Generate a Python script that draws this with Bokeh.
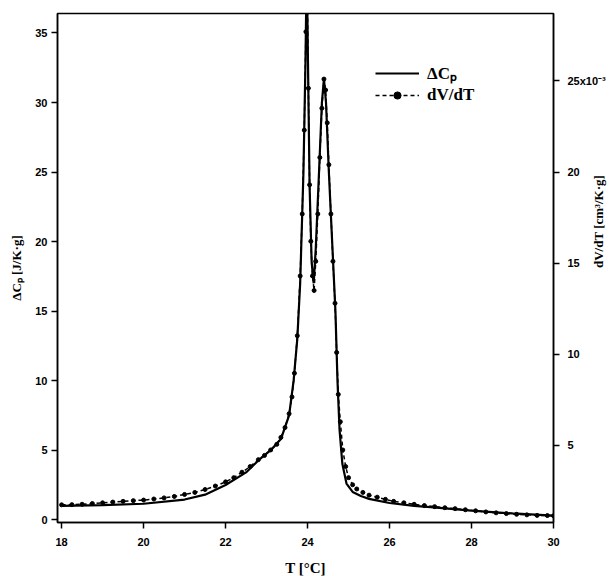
import math
from bokeh.plotting import figure
from bokeh.models import (Range1d, LinearAxis, FixedTicker, Legend, LegendItem)
from bokeh.embed import file_html
from bokeh.resources import INLINE

# ---- data ----
temp_cp = [18.0, 19.0, 20.0, 21.0, 21.5, 22.0, 22.5, 22.85, 23.1, 23.35, 23.55, 23.66,
           23.75, 23.82, 23.9, 23.95, 23.98, 24.01, 24.05, 24.1, 24.15, 24.2, 24.28,
           24.35, 24.4, 24.45, 24.52, 24.6, 24.68, 24.73, 24.78, 24.85, 24.95, 25.1,
           25.3, 25.5, 26.0, 26.6, 27.0, 28.0, 29.0, 30.0]
delta_cp = [1.0, 1.05, 1.15, 1.45, 1.8, 2.5, 3.4, 4.4, 5.0, 5.8, 7.5, 10.0,
            13.0, 17.0, 25.0, 33.0, 40.0, 33.0, 24.0, 18.5, 17.0, 19.5, 25.0,
            30.0, 31.7, 30.0, 25.0, 20.0, 15.0, 10.0, 6.5, 4.0, 2.6, 2.0,
            1.7, 1.5, 1.2, 1.0, 0.9, 0.65, 0.45, 0.3]

temp_dv = [18.0, 18.25, 18.5, 18.75, 19.0, 19.25, 19.5, 19.75, 20.0, 20.25, 20.5, 20.75,
           21.0, 21.25, 21.5, 21.75, 22.0, 22.2, 22.4, 22.6, 22.8, 22.95, 23.1, 23.25,
           23.35, 23.45, 23.55, 23.62, 23.68, 23.75, 23.82, 23.87, 23.92, 23.96, 23.99,
           24.02, 24.05, 24.08, 24.12, 24.16, 24.2, 24.25, 24.3, 24.35, 24.4, 24.44,
           24.48, 24.52, 24.57, 24.62, 24.67, 24.71, 24.75, 24.8, 24.86, 24.93, 25.0,
           25.1, 25.2, 25.35, 25.5, 25.7, 25.9, 26.1, 26.35, 26.6, 26.85, 27.1, 27.35,
           27.6, 27.85, 28.1, 28.35, 28.6, 28.85, 29.1, 29.35, 29.6, 29.85, 30.0]
dv_dt = [1.74, 1.75, 1.77, 1.81, 1.85, 1.89, 1.93, 1.97, 2.00, 2.06, 2.12, 2.20,
         2.31, 2.42, 2.58, 2.77, 3.00, 3.23, 3.53, 3.84, 4.22, 4.45, 4.75, 5.06,
         5.44, 5.98, 6.74, 7.66, 8.96, 11.02, 14.3, 17.7, 22.3, 27.7, 30.7,
         24.6, 19.3, 16.2, 14.3, 13.5, 15.1, 17.7, 20.8, 23.5, 25.1, 24.5,
         22.7, 20.4, 17.7, 15.1, 12.8, 10.1, 7.8, 6.3, 4.75, 3.84, 3.23,
         2.84, 2.61, 2.42, 2.27, 2.16, 2.04, 1.93, 1.85, 1.77, 1.70, 1.64, 1.58,
         1.53, 1.47, 1.41, 1.35, 1.30, 1.26, 1.22, 1.19, 1.16, 1.15, 1.14]

x_ticks = [18, 20, 22, 24, 26, 28, 30]
left_ticks = [0, 5, 10, 15, 20, 25, 30, 35]
right_ticks = [5, 10, 15, 20, 25]
right_tick_labels = {25: "25x10⁻³"}

TICK_FONT = "Liberation Sans"
LABEL_FONT = "Liberation Serif"

p = figure(frame_width=496, frame_height=509,
           x_range=Range1d(17.9, 30.0), y_range=Range1d(-0.2, 36.4),
           output_backend="svg", toolbar_location=None,
           min_border_left=57, min_border_right=50, min_border_top=13, min_border_bottom=48,
           background_fill_color="white", border_fill_color="white")
p.extra_y_ranges = {"dv": Range1d(0.77, 28.7)}
p.grid.visible = False
p.outline_line_color = "black"
p.outline_line_width = 1.5
p.outline_line_alpha = 1.0


def style_axis(ax):
    ax.axis_line_color = "black"
    ax.axis_line_width = 1.5
    ax.major_tick_line_color = "black"
    ax.major_tick_line_width = 1.5
    ax.major_tick_out = 6
    ax.major_tick_in = 0
    ax.minor_tick_line_color = None
    ax.major_label_text_font = TICK_FONT
    ax.major_label_text_font_style = "bold"
    ax.major_label_text_font_size = "11px"
    ax.major_label_text_color = "black"
    ax.axis_label_text_font = LABEL_FONT
    ax.axis_label_text_font_style = "bold"
    ax.axis_label_text_color = "black"


xa = p.xaxis[0]
style_axis(xa)
xa.ticker = FixedTicker(ticks=x_ticks)
xa.axis_label = "T [°C]"
xa.axis_label_text_font_size = "15px"
xa.major_label_standoff = 9
xa.axis_label_standoff = 11

ya = p.yaxis[0]
style_axis(ya)
ya.ticker = FixedTicker(ticks=left_ticks)
ya.axis_label = "ΔCₚ [J/K·g]"
ya.axis_label_text_font_size = "13px"
ya.major_label_standoff = 4
ya.axis_label_standoff = 8

ra = LinearAxis(y_range_name="dv", ticker=FixedTicker(ticks=right_ticks))
style_axis(ra)
ra.major_label_overrides = right_tick_labels
ra.axis_label = "dV/dT [cm³/K·g]"
ra.axis_label_text_font_size = "13px"
ra.major_label_standoff = 8
ra.axis_label_standoff = -10
if "axis_label_orientation" in ra.properties():
    ra.axis_label_orientation = math.pi / 2
p.add_layout(ra, "right")

cp_line = p.line(temp_cp, delta_cp, line_color="black", line_width=2.2)
dv_line = p.line(temp_dv, dv_dt, y_range_name="dv", line_color="black",
                 line_width=1.5, line_dash="4 3")
dv_pts = p.scatter(temp_dv, dv_dt, y_range_name="dv", marker="circle", size=4,
                   fill_color="black", line_color="black")

legend = Legend(items=[LegendItem(label="ΔCₚ", renderers=[cp_line]),
                       LegendItem(label="dV/dT", renderers=[dv_line, dv_pts])],
                location=(318, 417))
legend.border_line_alpha = 0
legend.background_fill_alpha = 0
legend.glyph_width = 44
legend.glyph_height = 18
legend.label_height = 18
legend.label_standoff = 8
legend.spacing = 1
legend.padding = 0
legend.margin = 0
legend.label_text_font = LABEL_FONT
legend.label_text_font_style = "bold"
legend.label_text_font_size = "17px"
legend.label_text_color = "black"
p.add_layout(legend)

open("out.html", "w").write(file_html(p, INLINE))
